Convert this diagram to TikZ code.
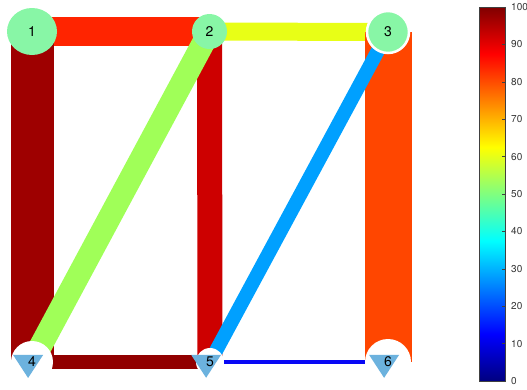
\documentclass[tikz,border=0pt]{standalone}
\usepackage{fontspec}
\setsansfont{TeX Gyre Heros}
\usepackage{tikz}
\usetikzlibrary{backgrounds,shapes.geometric}
\definecolor{netmint}{RGB}{136,246,166}
\definecolor{netsky}{RGB}{108,178,222}
\definecolor{netred}{RGB}{255,36,0}
\definecolor{netyellow}{RGB}{232,255,22}
\definecolor{netdark}{RGB}{158,0,0}
\definecolor{netcrimson}{RGB}{205,0,0}
\definecolor{netorange}{RGB}{255,70,0}
\definecolor{netlime}{RGB}{160,255,88}
\definecolor{netazure}{RGB}{0,160,255}
\definecolor{netmaroon}{RGB}{145,0,0}
\definecolor{netblue}{RGB}{8,8,245}
\definecolor{jeta}{RGB}{0,0,128}
\definecolor{jetb}{RGB}{0,0,255}
\definecolor{jetc}{RGB}{0,255,255}
\definecolor{jetd}{RGB}{255,255,0}
\definecolor{jete}{RGB}{255,0,0}
\definecolor{jetf}{RGB}{128,0,0}
\tikzset{
  hub/.style={circle,fill=netmint,inner sep=0pt,minimum size=#1,font=\sffamily\fontsize{14}{16}\selectfont},
  sink/.style={circle,inner sep=0pt,minimum size=50pt,font=\sffamily\fontsize{14}{16}\selectfont,
    path picture={
      \fill[white] (path picture bounding box.center) circle (#1pt);
      \fill[netsky,shift={(path picture bounding box.center)}] (-15,-12) -- (15,-12) -- (0,11) -- cycle;
    }},
  bar/.style={line width=#1pt},
  cbtick/.style={anchor=west,inner sep=0pt,font=\sffamily\fontsize{10}{11}\selectfont,text=black!80}
}

\begin{document}
\begin{tikzpicture}[x=1pt,y=-1pt]
  \useasboundingbox (0,0) rectangle (527,389);
  % stations
  \node[hub,ellipse,minimum width=50pt,minimum height=47pt] (n1) at (32,31.5) {1};
  \node[hub=35pt] (n2) at (209.5,31.5) {2};
  \node[hub=42pt,draw=white,line width=2.5pt] (n3) at (388,32) {3};
  \node[sink=21] (n4) at (32,362) {4};
  \node[sink=14] (n5) at (210,362) {5};
  \node[sink=23] (n6) at (388,362) {6};
  % links
  \begin{scope}[on background layer]
    \draw[bar=29,netred] (n1.center) -- (n2.center);
    \draw[bar=18,netyellow] (n2.center) -- (n3.center);
    \draw[bar=43,netdark] (n1.center) -- (n4.center);
    \draw[bar=25,netcrimson] (n2.center) -- (n5.center);
    \draw[bar=47,netorange] (n3.center) -- (n6.center);
    \draw[bar=14,netmaroon] (n4.center) -- (n5.center);
    \draw[bar=4,netblue] (n5.center) -- (n6.center);
    \draw[bar=23,netlime] (n2.center) -- (n4.center);
    \draw[bar=14,netazure] (n3.center) -- (n5.center);
  \end{scope}
  % colour bar
  \foreach \ya/\yb/\ca/\cb in {381/334.25/jeta/jetb,334.25/240.75/jetb/jetc,240.75/147.25/jetc/jetd,147.25/53.75/jetd/jete,53.75/7/jete/jetf}
    \shade[bottom color=\ca,top color=\cb] (479,\ya) rectangle (505,\yb);
  \draw[black!75,line width=.5pt] (479,7) rectangle (505,381);
  \foreach \v in {0,10,...,100}{
    \draw[black!75,line width=.5pt] (502,{381-3.74*\v}) -- (505,{381-3.74*\v});
    \node[cbtick] (t\v) at (511,{381-3.74*\v}) {\v};
  }
\end{tikzpicture}
\end{document}
